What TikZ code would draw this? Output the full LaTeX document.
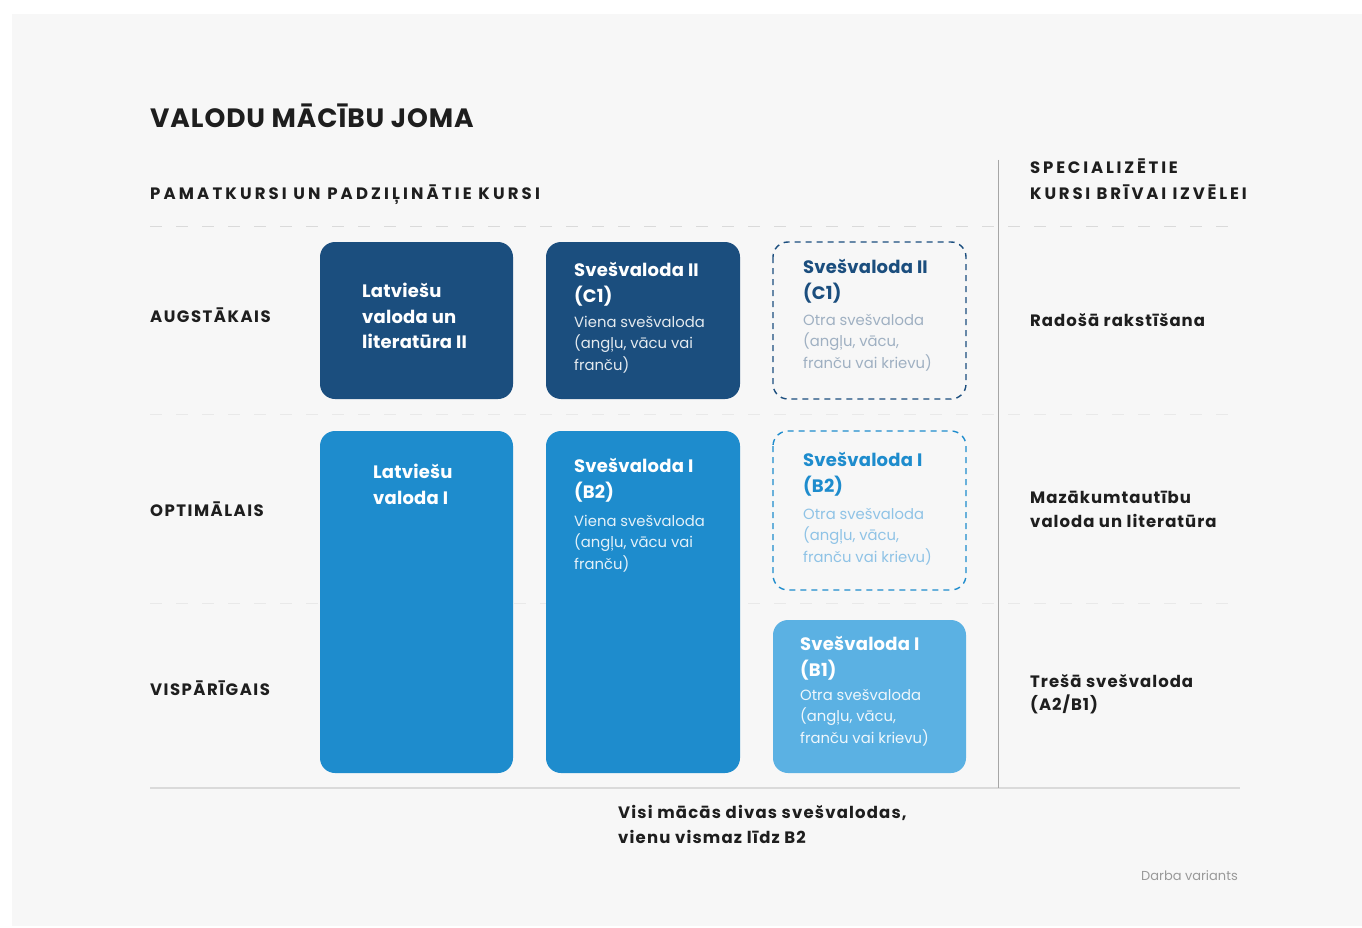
\documentclass[tikz,border=0pt]{standalone}
\usepackage{fontspec}
\setmainfont{Poppins}
\definecolor{bgcol}{HTML}{F7F7F7}
\definecolor{darkbox}{HTML}{1B4E7E}
\definecolor{midbox}{HTML}{1E8CCD}
\definecolor{lightbox}{HTML}{5BB1E3}
\definecolor{darkdesc}{HTML}{9FB0C2}
\definecolor{middesc}{HTML}{8FC3E6}
\definecolor{gridcol}{HTML}{DADADA}
\definecolor{txt}{HTML}{1E1E1E}
\tikzset{
  box/.style={rounded corners=15pt},
  dbox/.style={rounded corners=15pt, dashed, dash pattern=on 6pt off 5pt, line width=1.4pt},
  btitle/.style={anchor=north west, inner sep=0pt, align=left, font=\fontsize{18}{25.5}\selectfont\bfseries\addfontfeatures{LetterSpace=1}},
  bdesc/.style={anchor=north west, inner sep=0pt, align=left, font=\fontsize{14.8}{21.5}\selectfont},
  rowlab/.style={anchor=west, inner sep=0pt, text=txt, font=\fontsize{16.5}{20}\selectfont\bfseries\addfontfeatures{LetterSpace=9}},
  rtext/.style={anchor=north west, inner sep=0pt, align=left, text=txt, font=\fontsize{16.5}{23.5}\selectfont\bfseries\addfontfeatures{LetterSpace=6}},
  gridline/.style={draw=gridcol, line width=1pt, dash pattern=on 12pt off 14pt},
}
\begin{document}
\begin{tikzpicture}[x=1pt,y=-1pt]
\useasboundingbox (0,0) rectangle (1362,928);
\fill[white] (0,0) rectangle (1362,928);
\fill[bgcol] (12,14) rectangle (1362,926);
% title
\node[anchor=base west, inner sep=0pt, text=txt, font=\fontsize{26.5}{30}\selectfont\bfseries\addfontfeatures{LetterSpace=3.5}] (title) at (150,128) {VALODU MĀCĪBU JOMA};
\node[anchor=base west, inner sep=0pt, text=txt, font=\fontsize{16.5}{20}\selectfont\bfseries\addfontfeatures{LetterSpace=19}] (sub) at (150,200) {PAMATKURSI UN PADZIĻINĀTIE KURSI};
\node[anchor=base west, inner sep=0pt, text=txt, align=left, font=\fontsize{16.5}{26}\selectfont\bfseries\addfontfeatures{LetterSpace=17}] (spec) at (1030,200) {SPECIALIZĒTIE\\KURSI BRĪVAI IZVĒLEI};
% grid
\coordinate (gA) at (150,226); \coordinate (gB) at (1240,226);
\coordinate (gC) at (150,414); \coordinate (gD) at (1240,414);
\coordinate (gE) at (150,603); \coordinate (gF) at (1240,603);
\coordinate (bl) at (150,788); \coordinate (br) at (1240,788);
\coordinate (vt) at (998,160); \coordinate (vb) at (998,788);
\draw[gridline] (gA) -- (gB);
\draw[gridline, draw=gridcol!60] (gC) -- (gD);
\draw[gridline, draw=gridcol!60] (gE) -- (gF);
\draw[draw=gridcol, line width=2pt] (bl) -- (br);
\draw[draw=gray!70, line width=1pt] (vt) -- (vb);
% row labels
\node[rowlab] (r1) at (150,315) {AUGSTĀKAIS};
\node[rowlab] (r2) at (150,509) {OPTIMĀLAIS};
\node[rowlab] (r3) at (150,688) {VISPĀRĪGAIS};
% boxes
\fill[darkbox, box] (320,242) rectangle (513,399);
\fill[darkbox, box] (546,242) rectangle (740,399);
\draw[darkbox, dbox] (773,242) rectangle (966,399);
\fill[midbox, box] (320,431) rectangle (513,773);
\fill[midbox, box] (546,431) rectangle (740,773);
\draw[midbox, dbox] (773,431) rectangle (966,590);
\fill[lightbox, box] (773,620) rectangle (966,773);
% box texts
\node[btitle, text=white] (t1) at (362,283) {Latviešu\\valoda un\\literatūra II};
\node[btitle, text=white] (t2) at (574,262) {Svešvaloda II\\(C1)};
\node[bdesc, text=white!88!darkbox] (d2) at (574,316) {Viena svešvaloda\\(angļu, vācu vai\\franču)};
\node[btitle, text=darkbox] (t3) at (803,259) {Svešvaloda II\\(C1)};
\node[bdesc, text=darkdesc] (d3) at (803,314) {Otra svešvaloda\\(angļu, vācu,\\franču vai krievu)};
\node[btitle, text=white] (t4) at (373,464) {Latviešu\\valoda I};
\node[btitle, text=white] (t5) at (574,458) {Svešvaloda I\\(B2)};
\node[bdesc, text=white!88!midbox] (d5) at (574,515) {Viena svešvaloda\\(angļu, vācu vai\\franču)};
\node[btitle, text=midbox] (t6) at (803,452) {Svešvaloda I\\(B2)};
\node[bdesc, text=middesc] (d6) at (803,508) {Otra svešvaloda\\(angļu, vācu,\\franču vai krievu)};
\node[btitle, text=white] (t7) at (800,636) {Svešvaloda I\\(B1)};
\node[bdesc, text=white!90!lightbox] (d7) at (800,689) {Otra svešvaloda\\(angļu, vācu,\\franču vai krievu)};
% right column
\node[rtext] (s1) at (1030,313) {Radošā rakstīšana};
\node[rtext] (s2) at (1030,491) {Mazākumtautību\\valoda un literatūra};
\node[rtext] (s3) at (1030,674) {Trešā svešvaloda\\(A2/B1)};
% bottom
\node[anchor=north west, inner sep=0pt, align=left, text=txt, font=\fontsize{16.5}{25}\selectfont\bfseries\addfontfeatures{LetterSpace=7}] (note) at (618,805) {Visi mācās divas svešvalodas,\\vienu vismaz līdz B2};
\node[anchor=base east, inner sep=0pt, text=gray!80, font=\fontsize{13}{14}\selectfont] (draft) at (1238,880) {Darba variants};
\end{tikzpicture}
\end{document}
